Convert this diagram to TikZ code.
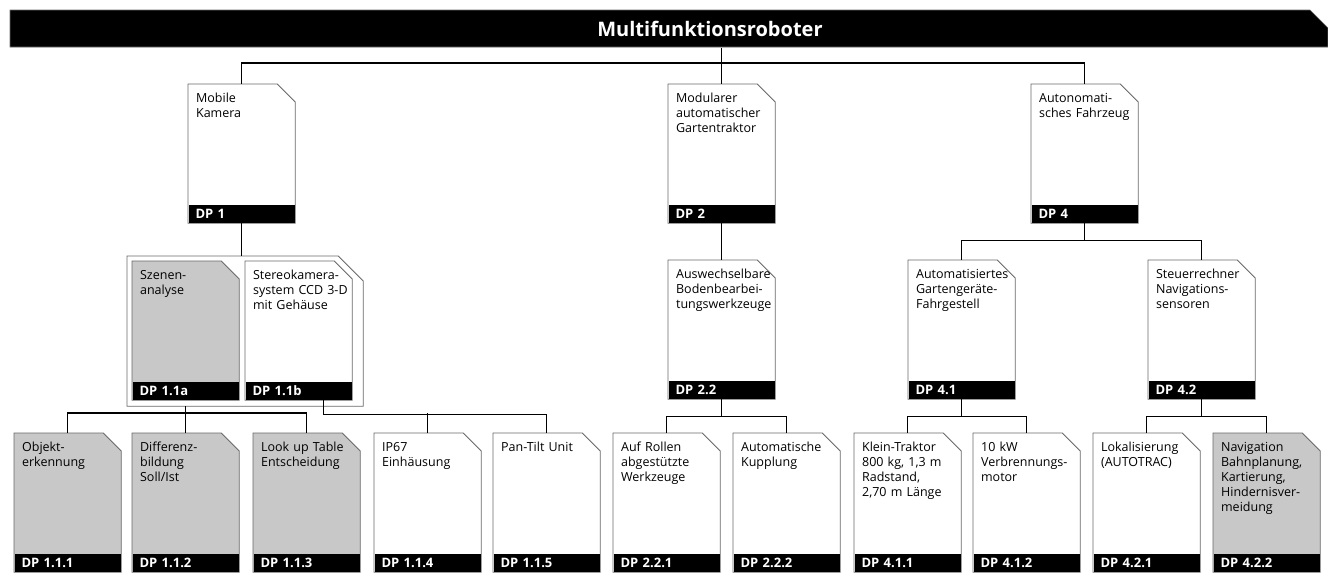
\documentclass[tikz,border=0pt]{standalone}
\usepackage{fontspec}
\setmainfont{Open Sans}
\definecolor{boxgray}{RGB}{200,200,200}
\definecolor{edgegray}{RGB}{105,105,105}
\begin{document}
\begin{tikzpicture}[x=1pt,y=-1pt,line width=1.2pt,
	box/.style={minimum width=106pt,minimum height=138pt,inner sep=0pt,anchor=north west},
	sheet/.style={draw=edgegray,line width=0.9pt},
	bar/.style={fill=black,text=white,font=\fontsize{13}{15}\selectfont\bfseries,
		minimum height=18pt,inner xsep=7pt,inner ysep=0pt,text width=92pt,align=left,anchor=south west},
	txt/.style={anchor=base west,inner sep=0pt,text width=120pt,align=left,
		font=\fontsize{12.5}{15}\selectfont}]
	\useasboundingbox (0,0) rectangle (1328,584);
		\filldraw[draw=edgegray,line width=0.6pt] (10,10) -- (1310,10) -- (1328,28) -- (1328,47) -- (10,47) -- cycle;
		\node[text=white,font=\fontsize{20}{24}\selectfont\bfseries,minimum height=37pt,inner sep=0pt] (title) at (710,28.5) {Multifunktionsroboter};
		\node[minimum width=235pt,minimum height=149pt,inner sep=0pt,anchor=north west] (g11) at (127,256) {};
		\filldraw[sheet,fill=white] (g11.south west) -- (g11.north west) -- ([xshift=-25pt]g11.north east)
			-- ([yshift=-25pt]g11.north east) -- (g11.south east) -- cycle;
		\foreach \nm/\px/\py/\col/\words/\lbl in {
			dp1/188/84/white/{Mobile\\Kamera}/DP 1,
			dp2/668/84/white/{Modularer\\automatischer\\Gartentraktor}/DP 2,
			dp4/1031/84/white/{Autonomati-\\sches Fahrzeug}/DP 4,
			dp11a/132/261/boxgray/{Szenen-\\analyse}/DP 1.1a,
			dp11b/245/261/white/{Stereokamera-\\system CCD 3-D\\mit Gehäuse}/DP 1.1b,
			dp22/668/260/white/{Auswechselbare\\Bodenbearbei-\\tungswerkzeuge}/DP 2.2,
			dp41/908/260/white/{Automatisiertes\\Gartengeräte-\\Fahrgestell}/DP 4.1,
			dp42/1148/260/white/{Steuerrechner\\Navigations-\\sensoren}/DP 4.2,
			dp111/14/433/boxgray/{Objekt-\\erkennung}/DP 1.1.1,
			dp112/132/433/boxgray/{Differenz-\\bildung\\Soll/Ist}/DP 1.1.2,
			dp113/253/433/boxgray/{Look up Table\\Entscheidung}/DP 1.1.3,
			dp114/374/433/white/{IP67\\Einhäusung}/DP 1.1.4,
			dp115/493/433/white/{Pan-Tilt Unit}/DP 1.1.5,
			dp221/613/433/white/{Auf Rollen\\abgestützte\\Werkzeuge}/DP 2.2.1,
			dp222/733/433/white/{Automatische\\Kupplung}/DP 2.2.2,
			dp411/854/433/white/{Klein-Traktor\\800 kg, 1,3 m\\Radstand,\\2,70 m Länge}/DP 4.1.1,
			dp412/973/433/white/{10 kW\\Verbrennungs-\\motor}/DP 4.1.2,
			dp421/1093/433/white/{Lokalisierung\\(AUTOTRAC)}/DP 4.2.1,
			dp422/1213/433/boxgray/{Navigation\\Bahnplanung,\\Kartierung,\\Hindernisver-\\meidung}/DP 4.2.2}{
			\node[box] (\nm) at (\px,\py) {};
			\filldraw[sheet,fill=\col] (\nm.south west) -- (\nm.north west) -- ([xshift=-18pt]\nm.north east)
				-- ([yshift=-18pt]\nm.north east) -- (\nm.south east) -- cycle;
			\node[bar] (\nm-dp) at (\nm.south west) {\lbl};
			\node[txt] (\nm-txt) at ([xshift=7.5pt,yshift=-18pt]\nm.north west) {\words};
		}
		\draw (title.south -| dp2.north) -- (dp2.north);
		\draw (dp1.north) -- ++(0,-21) -| (dp4.north);
		\draw (dp1.south) -- (dp1.south |- g11.north);
		\draw (dp2.south) -- (dp22.north);
		\draw (dp4.south) -- ++(0,17) -| (dp41.north);
		\draw (dp4.south) ++(0,17) -| (dp42.north);
		\draw (dp11a.south |- g11.south) -- (dp112.north);
		\draw (dp111.north) -- ++(0,-20) -| (dp113.north);
		\draw ([xshift=25pt]dp11b.south) -- ++(0,14) -| (dp115.north);
		\draw (dp114.north) -- ++(0,-20);
		\draw (dp22.south) -- ++(0,17) -| (dp221.north);
		\draw (dp22.south) ++(0,17) -| (dp222.north);
		\draw (dp41.south) -- ++(0,17) -| (dp411.north);
		\draw (dp41.south) ++(0,17) -| (dp412.north);
		\draw (dp42.south) -- ++(0,17) -| (dp421.north);
		\draw (dp42.south) ++(0,17) -| (dp422.north);
\end{tikzpicture}
\end{document}
